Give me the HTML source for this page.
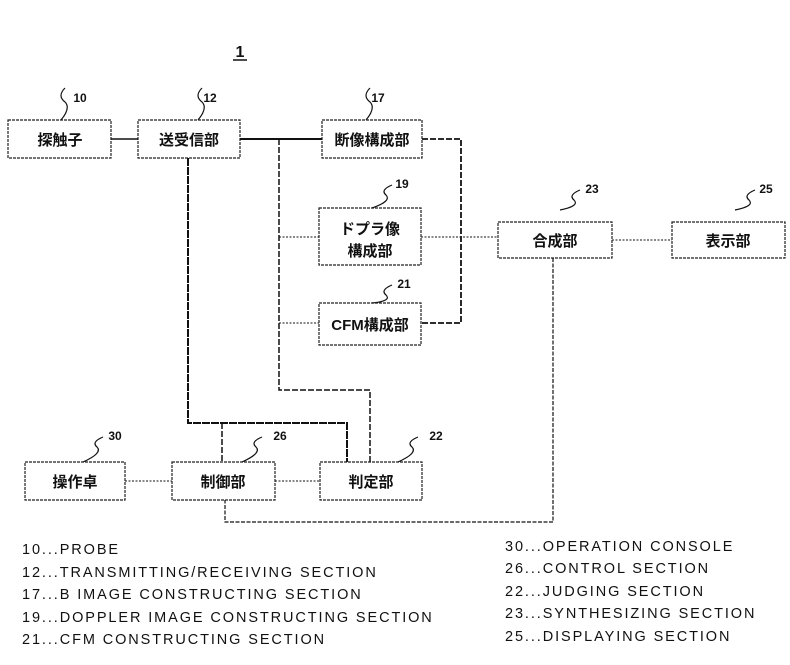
<!DOCTYPE html>
<html><head><meta charset="utf-8"><style>
body{margin:0;background:#fff;}
svg text{font-family:"Liberation Sans","Noto Sans CJK JP",sans-serif;fill:#111;}
</style></head><body>
<svg width="790" height="660" viewBox="0 0 790 660" xmlns="http://www.w3.org/2000/svg">
<g fill="none" stroke="#222" stroke-width="1.2">
<rect x="8" y="120" width="103" height="38" stroke-dasharray="3,1"/>
<rect x="138" y="120" width="102" height="38" stroke-dasharray="3,1"/>
<rect x="322" y="120" width="100" height="38" stroke-dasharray="3,1"/>
<rect x="319" y="208" width="102" height="57" stroke-dasharray="3,1"/>
<rect x="319" y="303" width="102" height="42" stroke-dasharray="3,1"/>
<rect x="498" y="222" width="114" height="36" stroke-dasharray="3,1"/>
<rect x="672" y="222" width="113" height="36" stroke-dasharray="3,1"/>
<rect x="25" y="462" width="100" height="38" stroke-dasharray="3,1"/>
<rect x="172" y="462" width="103" height="38" stroke-dasharray="3,1"/>
<rect x="320" y="462" width="102" height="38" stroke-dasharray="3,1"/>
</g>
<g fill="none" stroke="#111">
<path d="M111 139H138" stroke-width="1.5"/>
<path d="M240 139H322" stroke-width="2"/>
<path d="M279 139V390H370V462" stroke-width="1.5" stroke-dasharray="6,2"/>
<path d="M279 237H319M279 323H319" stroke-width="1" stroke-dasharray="2,1.5"/>
<path d="M188 158V423H347V462" stroke-width="2" stroke-dasharray="8,1"/>
<path d="M222 423V462" stroke-width="1.5" stroke-dasharray="6,2"/>
<path d="M422 139H461V323H421" stroke-width="1.8" stroke-dasharray="6,2"/>
<path d="M421 237H498M612 240H672" stroke-width="1" stroke-dasharray="2,1.5"/>
<path d="M553 258V522H225V500" stroke-width="1.2" stroke-dasharray="4,1.5"/>
<path d="M125 481H172M275 481H320" stroke-width="1" stroke-dasharray="2,1.5"/>
<path d="M65 88q-8 8 0 14q6 6-4 18M202 88q-8 8 0 14q6 6-4 18M370 88q-8 8 0 14q6 6-4 18M392 185q-12 5-6 10q6 6-14 13M392 285q-12 5-6 10q6 6-14 8M580 190q-12 5-6 10q6 6-14 10M755 190q-12 5-6 10q6 6-14 10M103 437q-12 5-6 10q6 6-14 15M262 437q-12 5-6 10q6 6-14 15M418 437q-12 5-6 10q6 6-14 15" stroke-width="1.2"/>
<path d="M233 60H247" stroke-width="1.5"/>
</g>
<g font-size="15" text-anchor="middle" font-weight="bold">
<text x="240" y="57" font-size="16">1</text>
<text x="80" y="102" font-size="12">10</text>
<text x="210" y="102" font-size="12">12</text>
<text x="378" y="102" font-size="12">17</text>
<text x="402" y="188" font-size="12">19</text>
<text x="404" y="288" font-size="12">21</text>
<text x="592" y="193" font-size="12">23</text>
<text x="766" y="193" font-size="12">25</text>
<text x="115" y="440" font-size="12">30</text>
<text x="280" y="440" font-size="12">26</text>
<text x="436" y="440" font-size="12">22</text>
<text x="60" y="145">探触子</text>
<text x="189" y="145">送受信部</text>
<text x="372" y="145">断像構成部</text>
<text x="370" y="234">ドプラ像</text>
<text x="370" y="256">構成部</text>
<text x="370" y="330">CFM構成部</text>
<text x="555" y="246">合成部</text>
<text x="728" y="246">表示部</text>
<text x="75" y="487">操作卓</text>
<text x="223" y="487">制御部</text>
<text x="371" y="487">判定部</text>
</g>
<g font-size="14.5" letter-spacing="1.9">
<text x="22" y="554">10...PROBE</text>
<text x="22" y="577">12...TRANSMITTING/RECEIVING SECTION</text>
<text x="22" y="599">17...B IMAGE CONSTRUCTING SECTION</text>
<text x="22" y="622">19...DOPPLER IMAGE CONSTRUCTING  SECTION</text>
<text x="22" y="644">21...CFM CONSTRUCTING SECTION</text>
<text x="505" y="551">30...OPERATION CONSOLE</text>
<text x="505" y="573">26...CONTROL SECTION</text>
<text x="505" y="596">22...JUDGING SECTION</text>
<text x="505" y="618">23...SYNTHESIZING SECTION</text>
<text x="505" y="641">25...DISPLAYING SECTION</text>
</g>
</svg>
</body></html>
